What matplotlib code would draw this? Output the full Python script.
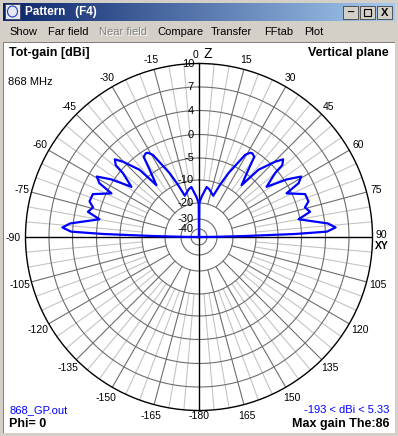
import numpy as np
import matplotlib.pyplot as plt
from matplotlib.patches import Rectangle, Circle
from matplotlib.colors import LinearSegmentedColormap
from matplotlib.transforms import offset_copy

plt.rcParams['font.family'] = ['Liberation Sans', 'DejaVu Sans']

# pattern, one half (theta measured from zenith, deg) and total gain in dBi
theta_deg = [0, 0.5, 3.8, 8.7, 12, 19, 22, 24.7, 29.3, 31.2, 32.5, 34.6, 36.3,
             39.4, 41.5, 45.3, 47.3, 49.2, 50, 53.4, 56.7, 59.4, 61.6, 63.5,
             68, 72, 74.4, 77.2, 79.9, 84, 86, 87.6, 88.2, 88.8, 89.5, 90, 180]
gain_dbi = [-193, -20, -17.2, -12.8, -13.5, -15.8, -10.2, -7, -1.8, -0.85, -0.7, -1.1, -4.1,
            -7.7, -2.7, 0.75, 2.0, 1.25, -0.7, -3.9, 0.4, 2.7, 1.8, -1.0,
            2.0, 2.1, 1.25, 1.9, -0.3, 4.4, 5.33, 4.2, -1.4, -14.8, -35, -193, -193]

ring_db = [7, 4, 0, -5, -10, -20, -30, -40]
ring_labels = ['10', '7', '4', '0', '-5', '-10', '-20', '-30', '-40']
ring_label_db = [10, 7, 4, 0, -5, -10, -20, -30, -40]

menu_items = ['Show', 'Far field', 'Near field', 'Compare', 'Transfer', 'FFtab', 'Plot']
menu_x = [9, 48, 99, 157, 211, 264, 304]

# radial scale of the plot (dB -> radius in px), 4nec2 style log grid
scale_db = [-45, -40, -30, -20, -10, -5, 0, 4, 7, 10]
scale_px = [0, 8, 18, 34, 57, 79, 102.5, 126.5, 150, 173.5]


def fwd(v):
    return np.interp(v, scale_db, scale_px)


def inv(v):
    return np.interp(v, scale_px, scale_db)


W, H = 398, 436
cx, cy, R = 199, 237, 173.5
fig = plt.figure(figsize=(W / 100, H / 100), dpi=100)
fig.patch.set_facecolor('#d4d0c8')


def ftext(px, py, s, **kw):
    return fig.text(px / W, 1 - py / H, s, **kw)


# window: client area, title bar, menu
fig.patches.append(Rectangle((4 / W, 1 - 433 / H), 391 / W, 390 / H, transform=fig.transFigure,
                             facecolor='white', edgecolor='none', zorder=-2))
fig.patches.append(Rectangle((3 / W, 1 - 43 / H), 392 / W, 1 / H, transform=fig.transFigure,
                             facecolor='#808080', edgecolor='none', zorder=-2))
fig.patches.append(Rectangle((3 / W, 1 - 433 / H), 1 / W, 390 / H, transform=fig.transFigure,
                             facecolor='#808080', edgecolor='none', zorder=-2))

tax = fig.add_axes([3 / W, 1 - 21 / H, 392 / W, 18 / H])
tax.imshow(np.linspace(0, 1, 256)[None, :], aspect='auto', extent=[0, 1, 0, 1],
           cmap=LinearSegmentedColormap.from_list('title', ['#0a246a', '#a6caf0']))
tax.axis('off')
ftext(25, 12.5, 'Pattern   (F4)', color='white', fontsize=8.5, fontweight='bold', va='center')

fig.patches.append(Rectangle((5 / W, 1 - 19 / H), 15 / W, 15 / H, transform=fig.transFigure,
                             facecolor='#e8e8f0', edgecolor='#404060', lw=0.6))
fig.patches.append(Circle((12.5 / W, 1 - 11.5 / H), 5 / W, transform=fig.transFigure,
                          facecolor='none', edgecolor='#2040c0', lw=0.8))
for i, bx in enumerate([343, 360, 377]):
    fig.patches.append(Rectangle((bx / W, 1 - 19 / H), 15 / W, 13 / H, transform=fig.transFigure,
                                 facecolor='#d4d0c8', edgecolor='#404040', lw=0.6))
ftext(350.5, 13, '_', fontsize=8, fontweight='bold', ha='center', va='bottom')
fig.patches.append(Rectangle((364 / W, 1 - 16.5 / H), 7 / W, 7 / H, transform=fig.transFigure,
                             facecolor='none', edgecolor='black', lw=0.8))
ftext(384.5, 12.5, 'X', fontsize=8, fontweight='bold', ha='center', va='center')

for name, mx in zip(menu_items, menu_x):
    if name == 'Near field':
        ftext(mx + 1, 33, name, fontsize=8, color='white', va='center')
        ftext(mx, 32, name, fontsize=8, color='#808080', va='center')
    else:
        ftext(mx, 32, name, fontsize=8, color='black', va='center')

# polar plot
ax = fig.add_axes([(cx - R) / W, (H - cy - R) / H, 2 * R / W, 2 * R / H], projection='polar')
ax.set_zorder(1)
ax.set_theta_zero_location('N')
ax.set_theta_direction(-1)
ax.set_rscale('function', functions=(fwd, inv))
ax.set_rlim(-45, 10)
ax.set_xticks([])
ax.set_yticks([])
ax.grid(False)
ax.patch.set_alpha(0)
ax.spines['polar'].set_color('black')
ax.spines['polar'].set_linewidth(1)

dark = '#6e6e6e'
light = '#c4c4c4'
for a in range(0, 360, 5):
    t = np.radians(a)
    if a % 90 == 0:
        continue
    if a % 15 == 0:
        ax.plot([t, t], [-20, 10], color=dark, lw=0.8, zorder=2)
    else:
        ax.plot([t, t], [-10, 10], color=light, lw=0.8, zorder=1)
full = np.linspace(0, 2 * np.pi, 721)
for lev in ring_db:
    ax.plot(full, np.full_like(full, lev), color=dark, lw=0.8, zorder=2)
for a in (0, 90, 180, 270):
    t = np.radians(a)
    ax.plot([t, t], [-45, 10], color='black', lw=1, zorder=3)

th = np.radians(theta_deg)
ax.plot(th, gain_dbi, color='#0000ff', lw=1.6, zorder=5, clip_on=False)
ax.plot(-th, gain_dbi, color='#0000ff', lw=1.6, zorder=5, clip_on=False)

# radial labels along the vertical axis
tr = offset_copy(ax.transData, fig=fig, x=-5, y=0, units='dots')
for lab, lev in zip(ring_labels, ring_label_db):
    ax.text(0, lev, lab, transform=tr, ha='right', va='center', fontsize=8, zorder=6)

# angle labels round the circle
for a in range(-165, 180, 15):
    if a in (0, 90, -90):
        continue
    t = np.radians(a)
    rr = R + 10 if abs(a) < 90 else R + 12
    ftext(cx + rr * np.sin(t), cy - rr * np.cos(t), str(a), fontsize=7.5, ha='center', va='center')
ftext(199, 416, '-180', fontsize=7.5, ha='center', va='center')
ftext(198, 55, '0', fontsize=7.5, ha='right', va='center')
ftext(203, 54, 'Z', fontsize=10, ha='left', va='center')
ftext(375, 235, '90', fontsize=7.5, ha='left', va='center')
ftext(375, 245.5, 'XY', fontsize=7.5, fontweight='bold', ha='left', va='center')
ftext(21, 238, '-90', fontsize=7.5, ha='right', va='center')

# info texts
ftext(9, 53, 'Tot-gain [dBi]', fontsize=9, fontweight='bold', va='center')
ftext(389, 53, 'Vertical plane', fontsize=9, fontweight='bold', va='center', ha='right')
ftext(8, 82, '868 MHz', fontsize=8, va='center')
ftext(9, 410, '868_GP.out', fontsize=8, va='center', color='#0000ff')
ftext(9, 424, 'Phi= 0', fontsize=9, fontweight='bold', va='center')
ftext(389, 410, '-193 < dBi < 5.33', fontsize=8, va='center', ha='right', color='#0000ff')
ftext(389, 424, 'Max gain The:86', fontsize=9, fontweight='bold', va='center', ha='right')

fig.savefig('out.png', dpi=100, facecolor=fig.get_facecolor())
